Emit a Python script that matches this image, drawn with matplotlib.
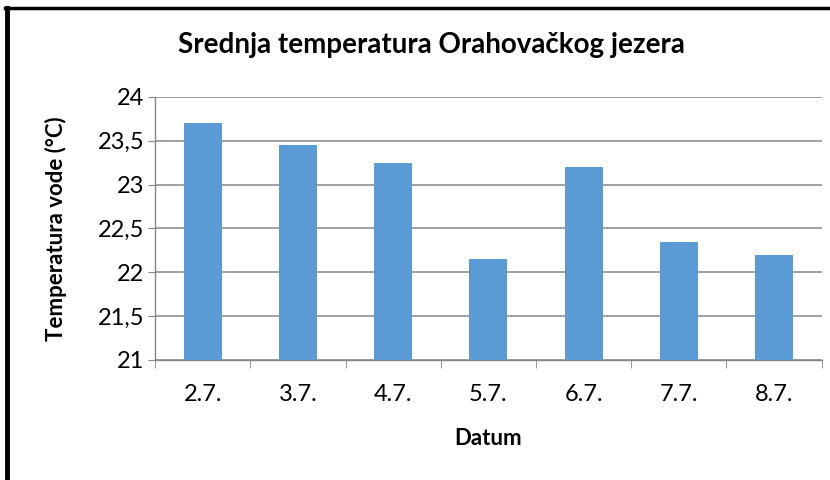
import matplotlib.pyplot as plt
from matplotlib.lines import Line2D
from matplotlib.ticker import FuncFormatter, FixedLocator

plt.rcParams['font.family'] = ['Lato', 'DejaVu Sans']

# Mean water temperature per day
dates = ['2.7.', '3.7.', '4.7.', '5.7.', '6.7.', '7.7.', '8.7.']
temps = [23.7, 23.45, 23.25, 22.15, 23.2, 22.35, 22.2]
y_ticks = [21, 21.5, 22, 22.5, 23, 23.5, 24]

bar_color = '#5B9BD5'
grid_color = '#868686'

fig = plt.figure(figsize=(8.3, 4.8), dpi=100)
ax = fig.add_axes([0.187, 0.25, 0.803, 0.548])

x = list(range(len(dates)))
ax.bar(x, temps, width=0.4, color=bar_color, zorder=3)

ax.set_ylim(21, 24)
ax.set_xlim(-0.5, len(dates) - 0.5)
ax.set_yticks(y_ticks)
ax.yaxis.set_major_formatter(FuncFormatter(lambda v, p: f'{v:g}'.replace('.', ',')))
ax.set_xticks(x)
ax.set_xticklabels(dates)
ax.xaxis.set_minor_locator(FixedLocator([i - 0.5 for i in range(len(dates) + 1)]))

ax.grid(axis='y', color=grid_color, linewidth=1.1, zorder=0)
for side in ['top', 'right']:
    ax.spines[side].set_visible(False)
for side in ['left', 'bottom']:
    ax.spines[side].set_color(grid_color)
    ax.spines[side].set_linewidth(1.0)

ax.tick_params(axis='x', which='major', length=0, pad=17, labelsize=17)
ax.tick_params(axis='x', which='minor', length=6, color=grid_color)
ax.tick_params(axis='y', length=5, color=grid_color, pad=3, labelsize=17)

ax.set_xlabel('Datum', fontsize=16, fontweight='bold', labelpad=17)
ax.set_ylabel('Temperatura vode (°C)', fontsize=16, fontweight='bold', labelpad=22)

fig.text(0.52, 0.906, 'Srednja temperatura Orahovačkog jezera',
         ha='center', va='center', fontsize=20, fontweight='bold')

# frame around the chart
fig.add_artist(Line2D([0.008, 0.008], [0, 0.984], color='black', linewidth=3.5))
fig.add_artist(Line2D([0.006, 1.0], [0.984, 0.984], color='black', linewidth=2.5))

fig.savefig('out.png', dpi=100)
